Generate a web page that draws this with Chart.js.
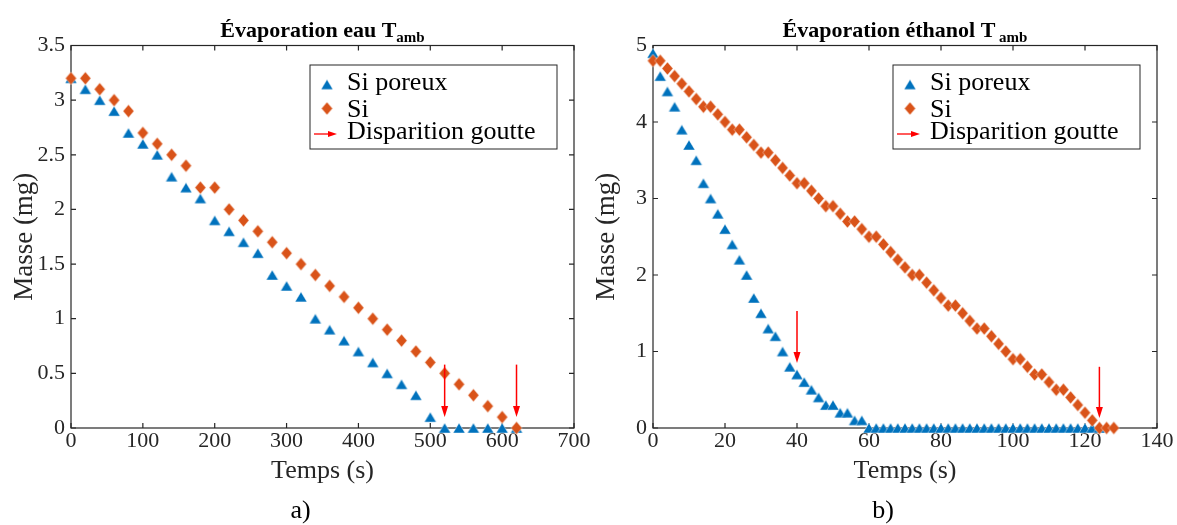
<!DOCTYPE html>
<html>
<head>
<meta charset="utf-8">
<script src="https://cdn.jsdelivr.net/npm/chart.js@4/dist/chart.umd.min.js"></script>
<style>
  html, body { margin: 0; padding: 0; background: #ffffff; }
  #wrap { position: relative; width: 1177px; height: 525px; }
  #wrap canvas { position: absolute; left: 0; top: 0; }
</style>
</head>
<body>
<div id="wrap">
  <canvas id="chartEau" width="1177" height="525"></canvas>
  <canvas id="chartEthanol" width="1177" height="525"></canvas>
</div>
<script>
// a) water, one point every 20 s
const tempsEau = [0, 20, 40, 60, 80, 100, 120, 140, 160, 180, 200, 220, 240, 260, 280, 300,
                  320, 340, 360, 380, 400, 420, 440, 460, 480, 500, 520, 540, 560, 580, 600, 620];
const siPoreuxEau = [3.2, 3.1, 3.0, 2.9, 2.7, 2.6, 2.5, 2.3, 2.2, 2.1, 1.9, 1.8, 1.7, 1.6, 1.4, 1.3,
                     1.2, 1.0, 0.9, 0.8, 0.7, 0.6, 0.5, 0.4, 0.3, 0.1, 0, 0, 0, 0, 0, 0];
const siEau = [3.2, 3.2, 3.1, 3.0, 2.9, 2.7, 2.6, 2.5, 2.4, 2.2, 2.2, 2.0, 1.9, 1.8, 1.7, 1.6,
               1.5, 1.4, 1.3, 1.2, 1.1, 1.0, 0.9, 0.8, 0.7, 0.6, 0.5, 0.4, 0.3, 0.2, 0.1, 0];
// "Disparition goutte" arrows: x, start and tip (mg)
const flecheXEau = [520, 620];
const flecheHautEau = [0.58, 0.58];
const flechePointeEau = [0.1, 0.1];

// b) ethanol, one point every 2 s
const tempsEthanol = [0, 2, 4, 6, 8, 10, 12, 14, 16, 18, 20, 22, 24, 26, 28, 30, 32, 34, 36, 38,
                      40, 42, 44, 46, 48, 50, 52, 54, 56, 58, 60, 62, 64, 66, 68, 70, 72, 74, 76, 78,
                      80, 82, 84, 86, 88, 90, 92, 94, 96, 98, 100, 102, 104, 106, 108, 110, 112, 114,
                      116, 118, 120, 122, 124, 126, 128];
const siPoreuxEthanol = [4.9, 4.6, 4.4, 4.2, 3.9, 3.7, 3.5, 3.2, 3.0, 2.8, 2.6, 2.4, 2.2, 2.0, 1.7, 1.5,
                         1.3, 1.2, 1.0, 0.8, 0.7, 0.6, 0.5, 0.4, 0.3, 0.3, 0.2, 0.2, 0.1, 0.1,
                         0, 0, 0, 0, 0, 0, 0, 0, 0, 0, 0, 0, 0, 0, 0, 0, 0, 0, 0, 0, 0, 0, 0,
                         0, 0, 0, 0, 0, 0, 0, 0, 0, 0, null, null];
const siEthanol = [4.8, 4.8, 4.7, 4.6, 4.5, 4.4, 4.3, 4.2, 4.2, 4.1, 4.0, 3.9, 3.9, 3.8, 3.7, 3.6,
                   3.6, 3.5, 3.4, 3.3, 3.2, 3.2, 3.1, 3.0, 2.9, 2.9, 2.8, 2.7, 2.7, 2.6, 2.5, 2.5,
                   2.4, 2.3, 2.2, 2.1, 2.0, 2.0, 1.9, 1.8, 1.7, 1.6, 1.6, 1.5, 1.4, 1.3, 1.3, 1.2,
                   1.1, 1.0, 0.9, 0.9, 0.8, 0.7, 0.7, 0.6, 0.5, 0.5, 0.4, 0.3, 0.2, 0.1, 0, 0, 0];
const flecheXEthanol = [40, 124];
const flecheHautEthanol = [1.53, 0.8];
const flechePointeEthanol = [0.85, 0.13];

const legendLabels = ['Si poreux', 'Si', 'Disparition goutte'];

const SERIF = '"Liberation Serif", "Times New Roman", serif';
const AXIS = '#262626';
const BLUE = '#0072BD';
const ORANGE = '#D95319';
const RED = '#FF0000';

// marker images (MATLAB-like triangle and tall diamond)
function markerTriangle(color) {
    const c = document.createElement('canvas');
    c.width = 14; c.height = 12;
    const g = c.getContext('2d');
    g.beginPath();
    g.moveTo(7, 1); g.lineTo(13, 11); g.lineTo(1, 11); g.closePath();
    g.fillStyle = color; g.fill();
    g.strokeStyle = 'rgba(255,255,255,0.55)'; g.lineWidth = 0.8; g.stroke();
    return c;
}
function markerDiamond(color) {
    const c = document.createElement('canvas');
    c.width = 13; c.height = 15;
    const g = c.getContext('2d');
    g.beginPath();
    g.moveTo(6.5, 1); g.lineTo(12, 7.5); g.lineTo(6.5, 14); g.lineTo(1, 7.5); g.closePath();
    g.fillStyle = color; g.fill();
    g.strokeStyle = 'rgba(255,255,255,0.55)'; g.lineWidth = 0.8; g.stroke();
    return c;
}
const triImg = markerTriangle(BLUE);
const diaImg = markerDiamond(ORANGE);

const toPoints = (xs, ys) => xs.map((x, i) => ({ x: x, y: ys[i] }));

function drawArrow(ctx, x, y1, y2) {
    const head = 11;
    ctx.save();
    ctx.strokeStyle = RED;
    ctx.fillStyle = RED;
    ctx.lineWidth = 1.5;
    ctx.beginPath();
    ctx.moveTo(x, y1);
    ctx.lineTo(x, y2 - head + 1);
    ctx.stroke();
    ctx.beginPath();
    ctx.moveTo(x - 3.5, y2 - head);
    ctx.lineTo(x + 3.5, y2 - head);
    ctx.lineTo(x, y2);
    ctx.closePath();
    ctx.fill();
    ctx.restore();
}

// box, inner ticks, title, legend, arrows, sub-label
const decor = {
    id: 'decor',
    beforeDatasetsDraw(chart) {
        const { ctx, chartArea: a, scales } = chart;
        ctx.save();
        ctx.strokeStyle = AXIS;
        ctx.lineWidth = 1.2;
        ctx.strokeRect(a.left, a.top, a.right - a.left, a.bottom - a.top);
        ctx.beginPath();
        const tl = 5;
        scales.x.ticks.forEach(t => {
            const px = scales.x.getPixelForValue(t.value);
            ctx.moveTo(px, a.bottom); ctx.lineTo(px, a.bottom - tl);
            ctx.moveTo(px, a.top); ctx.lineTo(px, a.top + tl);
        });
        scales.y.ticks.forEach(t => {
            const py = scales.y.getPixelForValue(t.value);
            ctx.moveTo(a.left, py); ctx.lineTo(a.left + tl, py);
            ctx.moveTo(a.right, py); ctx.lineTo(a.right - tl, py);
        });
        ctx.stroke();
        ctx.restore();
    },
    afterDatasetsDraw(chart, args, o) {
        const { ctx, scales } = chart;
        o.flecheX.forEach((v, i) => {
            drawArrow(ctx, scales.x.getPixelForValue(v),
                      scales.y.getPixelForValue(o.flecheHaut[i]),
                      scales.y.getPixelForValue(o.flechePointe[i]));
        });
    },
    afterDraw(chart, args, o) {
        const { ctx, chartArea: a } = chart;
        const cx = (a.left + a.right) / 2;
        ctx.save();

        // title with subscript
        ctx.fillStyle = '#000000';
        ctx.textBaseline = 'alphabetic';
        ctx.textAlign = 'left';
        const fMain = 'bold 22px ' + SERIF;
        const fSub = 'bold 15px ' + SERIF;
        ctx.font = fMain;
        const w1 = ctx.measureText(o.title).width;
        ctx.font = fSub;
        const w2 = ctx.measureText(o.titleSub).width;
        const x0 = cx - (w1 + w2) / 2;
        ctx.font = fMain;
        ctx.fillText(o.title, x0, 37);
        ctx.font = fSub;
        ctx.fillText(o.titleSub, x0 + w1, 42);

        // legend box
        const lw = 247, lh = 84;
        const lx = a.right - 17 - lw, ly = a.top + 19.5;
        ctx.fillStyle = '#ffffff';
        ctx.fillRect(lx, ly, lw, lh);
        ctx.strokeStyle = AXIS;
        ctx.lineWidth = 1;
        ctx.strokeRect(lx, ly, lw, lh);
        ctx.drawImage(triImg, lx + 17 - triImg.width / 2, ly + 19.5 - triImg.height / 2);
        ctx.drawImage(diaImg, lx + 17 - diaImg.width / 2, ly + 43.5 - diaImg.height / 2);
        ctx.save();
        ctx.strokeStyle = RED; ctx.fillStyle = RED; ctx.lineWidth = 1.3;
        ctx.beginPath(); ctx.moveTo(lx + 4, ly + 69); ctx.lineTo(lx + 20, ly + 69); ctx.stroke();
        ctx.beginPath(); ctx.moveTo(lx + 18, ly + 66); ctx.lineTo(lx + 27, ly + 69); ctx.lineTo(lx + 18, ly + 72);
        ctx.closePath(); ctx.fill();
        ctx.restore();
        ctx.fillStyle = '#000000';
        ctx.font = '26px ' + SERIF;
        ctx.fillText(legendLabels[0], lx + 37, ly + 25);
        ctx.fillText(legendLabels[1], lx + 37, ly + 51.5);
        ctx.fillText(legendLabels[2], lx + 37, ly + 74);

        // a) / b)
        ctx.textAlign = 'center';
        ctx.textBaseline = 'middle';
        ctx.fillText(o.subLabel, cx - 22, 511);
        ctx.restore();
    }
};

function buildChart(id, cfg) {
    return new Chart(document.getElementById(id), {
        type: 'scatter',
        data: {
            datasets: [{
                label: legendLabels[0],
                data: toPoints(cfg.temps, cfg.poreux),
                pointStyle: triImg,
                radius: 5,
                clip: false,
                order: 2
            }, {
                label: legendLabels[1],
                data: toPoints(cfg.temps, cfg.si),
                pointStyle: diaImg,
                radius: 5,
                clip: false,
                order: 1
            }]
        },
        options: {
            responsive: false,
            animation: false,
            locale: 'en-US',
            layout: { padding: cfg.padding },
            plugins: {
                legend: { display: false },
                tooltip: { enabled: false },
                decor: {
                    title: cfg.title,
                    titleSub: cfg.titleSub,
                    subLabel: cfg.subLabel,
                    flecheX: cfg.flecheX,
                    flecheHaut: cfg.flecheHaut,
                    flechePointe: cfg.flechePointe
                }
            },
            scales: {
                x: {
                    type: 'linear',
                    min: 0,
                    max: cfg.xMax,
                    grid: { display: false, drawTicks: false },
                    border: { display: false },
                    ticks: {
                        stepSize: cfg.xStep,
                        autoSkip: false,
                        maxRotation: 0,
                        padding: 0,
                        color: AXIS,
                        font: { family: SERIF, size: 22 },
                        callback: v => String(v)
                    },
                    title: {
                        display: true,
                        text: 'Temps (s)',
                        color: AXIS,
                        padding: 0,
                        font: { family: SERIF, size: 26, lineHeight: 1 }
                    },
                    afterFit: s => { s.height = 56; }
                },
                y: {
                    type: 'linear',
                    min: 0,
                    max: cfg.yMax,
                    grid: { display: false, drawTicks: false },
                    border: { display: false },
                    ticks: {
                        stepSize: cfg.yStep,
                        padding: 6,
                        color: AXIS,
                        font: { family: SERIF, size: 22 },
                        callback: v => String(v)
                    },
                    title: {
                        display: true,
                        text: 'Masse (mg)',
                        color: AXIS,
                        padding: 0,
                        font: { family: SERIF, size: 27, lineHeight: 1 }
                    },
                    afterFit: s => { s.width = 60; }
                }
            }
        },
        plugins: [decor]
    });
}

buildChart('chartEau', {
    temps: tempsEau, poreux: siPoreuxEau, si: siEau,
    xMax: 700, xStep: 100, yMax: 3.5, yStep: 0.5,
    padding: { left: 11, top: 45.5, right: 603, bottom: 41 },
    title: 'Évaporation eau T', titleSub: 'amb', subLabel: 'a)',
    flecheX: flecheXEau, flecheHaut: flecheHautEau, flechePointe: flechePointeEau
});

buildChart('chartEthanol', {
    temps: tempsEthanol, poreux: siPoreuxEthanol, si: siEthanol,
    xMax: 140, xStep: 20, yMax: 5, yStep: 1,
    padding: { left: 593, top: 45.5, right: 20, bottom: 41 },
    title: 'Évaporation éthanol T', titleSub: ' amb', subLabel: 'b)',
    flecheX: flecheXEthanol, flecheHaut: flecheHautEthanol, flechePointe: flechePointeEthanol
});
</script>
</body>
</html>
